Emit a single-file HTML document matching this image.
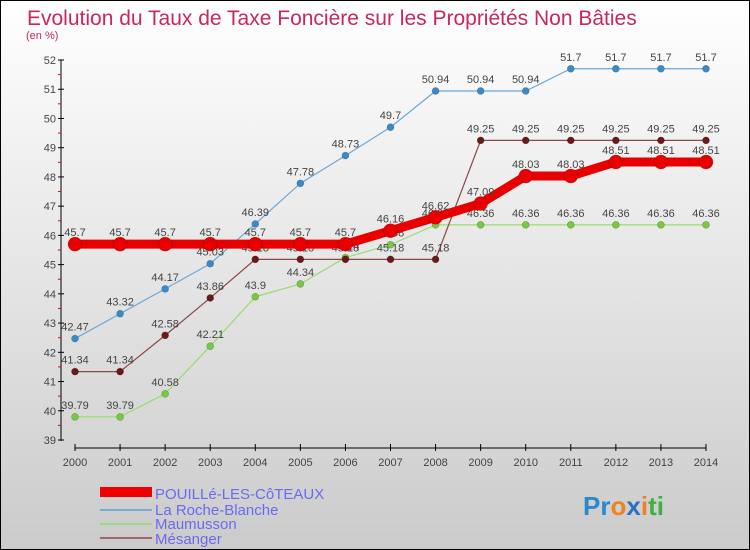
<!DOCTYPE html>
<html><head><meta charset="utf-8"><style>
body{margin:0}
svg{display:block;font-family:"Liberation Sans",sans-serif}
</style></head><body>
<svg id="c" width="750" height="550" xmlns="http://www.w3.org/2000/svg">
<defs><linearGradient id="bg" x1="0" y1="0" x2="0" y2="1"><stop offset="0" stop-color="#ffffff"/><stop offset="1" stop-color="#cbcbcb"/></linearGradient></defs>
<rect x="0.5" y="0.5" width="749" height="549" fill="url(#bg)" stroke="#000"/>
<text x="27" y="25" font-size="21" fill="#c8285a">Evolution du Taux de Taxe Foncière sur les Propriétés Non Bâties</text>
<text x="26" y="39" font-size="11" fill="#c8285a">(en %)</text>
<g id="axes"></g>
<g id="series"></g>
<g>
<rect x="100" y="487" width="52" height="10" fill="#e00"/>
<text x="155" y="499" font-size="15" fill="#6a6af0">POUILLé-LES-CôTEAUX</text>
<rect x="100" y="509" width="52" height="2" fill="#7aaad0"/>
<text x="155" y="515" font-size="15" fill="#6a6af0">La Roche-Blanche</text>
<rect x="100" y="523" width="52" height="2" fill="#9ed880"/>
<text x="155" y="529" font-size="15" fill="#6a6af0">Maumusson</text>
<rect x="100" y="537" width="52" height="2" fill="#a06868"/>
<text x="155" y="544" font-size="15" fill="#6a6af0">Mésanger</text>
</g>
<text x="583" y="515" font-size="26" font-weight="bold"><tspan fill="#2a88d0">Pr</tspan><tspan fill="#f08020">o</tspan><tspan fill="#2a70c0">x</tspan><tspan fill="#f08020">i</tspan><tspan fill="#40b040">ti</tspan></text>
</svg>
<script>
const years=[2000,2001,2002,2003,2004,2005,2006,2007,2008,2009,2010,2011,2012,2013,2014];
const yTicks=[39,40,41,42,43,44,45,46,47,48,49,50,51,52];
const pouille=[45.7,45.7,45.7,45.7,45.7,45.7,45.7,46.16,46.62,47.09,48.03,48.03,48.51,48.51,48.51];
const roche=[42.47,43.32,44.17,45.03,46.39,47.78,48.73,49.7,50.94,50.94,50.94,51.7,51.7,51.7,51.7];
const maumusson=[39.79,39.79,40.58,42.21,43.9,44.34,45.24,45.68,46.36,46.36,46.36,46.36,46.36,46.36,46.36];
const mesanger=[41.34,41.34,42.58,43.86,45.18,45.18,45.18,45.18,45.18,49.25,49.25,49.25,49.25,49.25,49.25];
const NS="http://www.w3.org/2000/svg";
const X=i=>75+i*(706-75)/(years.length-1);
const Y=v=>60+(52-v)*(440-60)/13;
function mk(t,a,p){const e=document.createElementNS(NS,t);for(const k in a)e.setAttribute(k,a[k]);p.appendChild(e);return e;}
const ax=document.getElementById('axes');
const ya=mk('line',{x1:61,y1:60,x2:61,y2:441,stroke:'#000'},ax);


yTicks.forEach(v=>{
 mk('line',{x1:58,x2:64,y1:Y(v),y2:Y(v),stroke:'#000'},ax);
 if(v<52)mk('line',{x1:58,x2:61,y1:Y(v+0.5),y2:Y(v+0.5),stroke:'#e00'},ax);
 const t=mk('text',{x:56,y:Y(v)+4,'font-size':11,'text-anchor':'end',fill:'#444'},ax);t.textContent=v;
 
 
});
const xa=mk('line',{x1:75,y1:448,x2:706,y2:448,stroke:'#000'},ax);


years.forEach((y,i)=>{
 mk('line',{x1:X(i),x2:X(i),y1:444,y2:451,stroke:'#000'},ax);
 const t=mk('text',{x:X(i),y:466,'font-size':11,'text-anchor':'middle',fill:'#444'},ax);t.textContent=y;
 
 
});
const sg=document.getElementById('series');
function series(d,name,col,w,r,dot){
 const g=mk('g',{},sg);
 
 
 const pl=mk('polyline',{points:d.map((v,i)=>X(i)+','+Y(v)).join(' '),fill:'none',stroke:col,'stroke-width':w},g);
 
 
 d.forEach((v,i)=>{
  const c=mk('circle',{cx:X(i),cy:Y(v),r:r,fill:dot,stroke:'#00000040','stroke-width':0.6},g);
  
  
  const t=mk('text',{x:X(i),y:Y(v)-8,'font-size':11,'text-anchor':'middle',fill:'#444'},g);t.textContent=v;
  
  
 });
}
series(roche,'la-roche-blanche','#6aa8d8',1.2,3.5,'#3a8ac8');
series(maumusson,'maumusson','#98dc70',1.2,3.5,'#78c840');
series(mesanger,'mesanger','#8a4848',1.2,3.5,'#6a1818');
series(pouille,'pouille-les-coteaux','#e80000',9,7,'#e80000');
</script>
</body></html>
